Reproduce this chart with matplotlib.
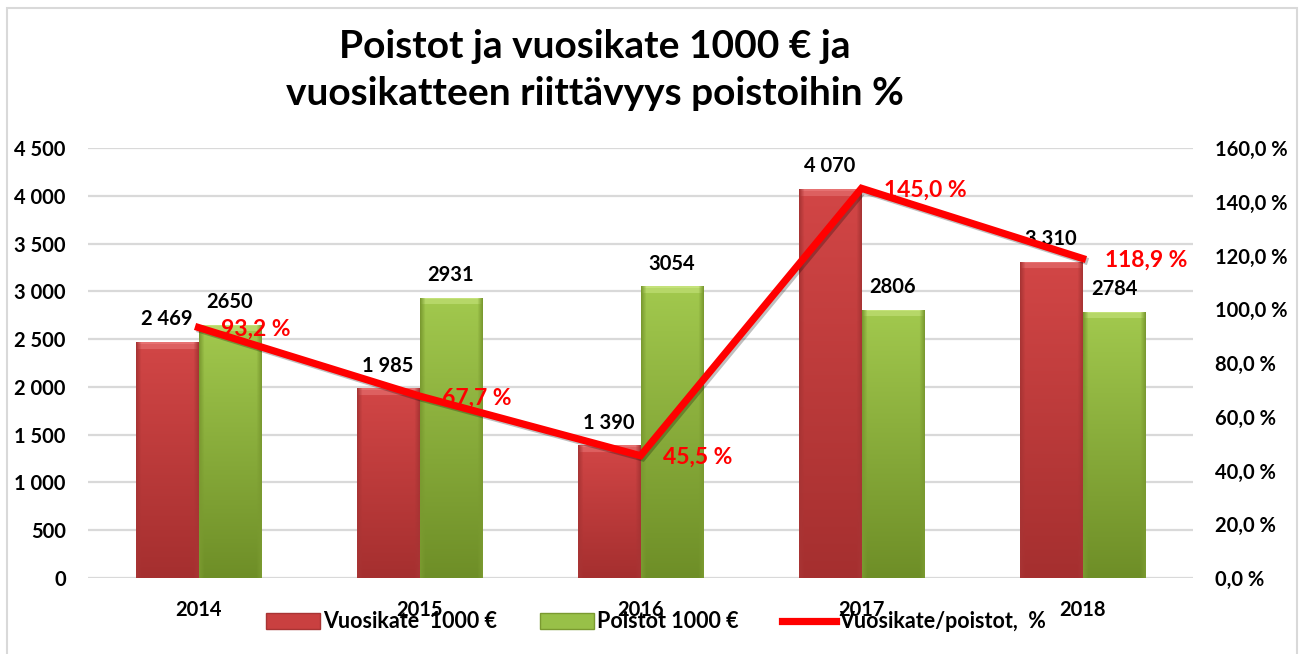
import numpy as np
import matplotlib
matplotlib.use("Agg")
import matplotlib.pyplot as plt
from matplotlib.patches import Patch, Rectangle
from matplotlib.lines import Line2D
import matplotlib.patheffects as pe

years = ["2014", "2015", "2016", "2017", "2018"]
vuosikate = [2469, 1985, 1390, 4070, 3310]
poistot = [2650, 2931, 3054, 2806, 2784]
riittavyys = [93.2, 67.7, 45.5, 145.0, 118.9]

left_ticks = [0, 500, 1000, 1500, 2000, 2500, 3000, 3500, 4000, 4500]
right_ticks = [0, 20, 40, 60, 80, 100, 120, 140, 160]

title = "Poistot ja vuosikate 1000 € ja\nvuosikatteen riittävyys poistoihin %"
legend_labels = ["Vuosikate  1000 €", "Poistot 1000 €", "Vuosikate/poistot,  %"]

plt.rcParams['font.family'] = ['Lato', 'DejaVu Sans']
plt.rcParams['font.weight'] = 'bold'

W, H = 1309, 654
fig = plt.figure(figsize=(W / 100, H / 100), dpi=100)
fig.patch.set_facecolor('white')

ax = fig.add_axes([88 / W, 1 - 578 / H, (1193 - 88) / W, (578 - 148) / H])
ax.set_facecolor('none')
x = np.arange(len(years))
bw = 0.285
fs = 14.5

ax.set_xlim(-0.5, len(years) - 0.5)
ax.set_ylim(0, 4500)
ax.set_yticks(left_ticks)
ax.set_yticklabels([f"{v:,}".replace(",", " ") for v in left_ticks])
ax.set_xticks(x)
ax.set_xticklabels(years)
for s in ax.spines.values():
    s.set_visible(False)
ax.tick_params(axis='both', length=0, labelsize=fs, colors='black')
ax.tick_params(axis='y', pad=16)
ax.tick_params(axis='x', pad=16)
for t in ax.get_xticklabels() + ax.get_yticklabels():
    t.set_fontweight('bold')
ax.yaxis.grid(True, color='#d9d9d9', lw=1.6, zorder=0)
ax.set_axisbelow(True)

bars_r = ax.bar(x - bw / 2, vuosikate, bw, color='#c94040', zorder=2, lw=0)
bars_g = ax.bar(x + bw / 2, poistot, bw, color='#93bb45', zorder=2, lw=0)


def shade(bars, top, bottom, bevel, edge):
    top = np.array(matplotlib.colors.to_rgb(top))
    bottom = np.array(matplotlib.colors.to_rgb(bottom))
    bevel = np.array(matplotlib.colors.to_rgb(bevel))
    edge = np.array(matplotlib.colors.to_rgb(edge))
    for r in bars:
        x0, w, h = r.get_x(), r.get_width(), r.get_height()
        p0 = ax.transData.transform((x0, 0))
        p1 = ax.transData.transform((x0 + w, h))
        hp = max(p1[1] - p0[1], 1)
        wp = max(p1[0] - p0[0], 1)
        ny, nx = int(hp), int(wp)
        t = np.linspace(0, 1, ny)[:, None, None]
        img = top * (1 - t) + bottom * t
        img = np.repeat(img, nx, axis=1)
        bev = 7
        img[:bev, :, :] = bevel * 0.6 + img[:bev, :, :] * 0.4
        img[:2, :, :] = bevel
        e = 5
        xs = np.arange(nx)
        fr = np.clip(np.minimum(xs, nx - 1 - xs) / e, 0, 1)[None, :, None]
        img = img * fr + edge * (1 - fr)
        im = ax.imshow(img, extent=[x0, x0 + w, 0, h], origin='upper',
                       aspect='auto', zorder=2.5, interpolation='bilinear')
        im.set_clip_path(r)


shade(bars_r, '#d24646', '#a52f2f', '#e67272', '#a83434')
shade(bars_g, '#a2c94e', '#6e8e27', '#c4e27a', '#7a9a30')
ax.set_xlim(-0.5, len(years) - 0.5)
ax.set_ylim(0, 4500)

for xi, v in zip(x - bw / 2, vuosikate):
    ax.annotate(f"{v:,}".replace(",", " "), (xi, v), xytext=(0, 12),
                textcoords='offset points', ha='center', va='baseline',
                fontsize=fs, fontweight='bold', color='black', zorder=5)
for xi, v in zip(x + bw / 2, poistot):
    ax.annotate(f"{v}", (xi, v), xytext=(0, 12),
                textcoords='offset points', ha='center', va='baseline',
                fontsize=fs, fontweight='bold', color='black', zorder=5)

ax2 = ax.twinx()
ax2.set_ylim(0, 160)
ax2.set_yticks(right_ticks)
ax2.set_yticklabels([f"{v:.1f} %".replace(".", ",") for v in right_ticks])
for s in ax2.spines.values():
    s.set_visible(False)
ax2.tick_params(axis='y', length=0, labelsize=fs, pad=16)
for t in ax2.get_yticklabels():
    t.set_fontweight('bold')

ax2.plot(x, riittavyys, color='#ff0000', lw=5.2, solid_joinstyle='miter',
         zorder=4,
         path_effects=[pe.SimpleLineShadow(offset=(1.5, -1.5), alpha=0.25),
                       pe.Normal()])
for xi, v in zip(x, riittavyys):
    ax2.annotate(f"{v:.1f} %".replace(".", ","), (xi, v), xytext=(16, -6),
                 textcoords='offset points', ha='left', va='baseline',
                 fontsize=16.5, fontweight='bold', color='#ff0000', zorder=6)

fig.text(595 / W, 1 - 70 / H, title, ha='center', va='center',
         fontsize=28, fontweight='bold', linespacing=1.42)

handles = [Patch(facecolor='#c94040', edgecolor='#a83434'),
           Patch(facecolor='#98c048', edgecolor='#7a9a30'),
           Line2D([0], [0], color='#ff0000', lw=5.2)]
leg = fig.legend(handles, legend_labels, loc='center', ncol=3,
                 bbox_to_anchor=(656 / W, 1 - 622 / H), frameon=False,
                 handlelength=2.5, handletextpad=0.15, columnspacing=2.0,
                 borderpad=0, prop={'weight': 'bold', 'size': 15.5})

fig.add_artist(Rectangle((7 / W, -0.05), (1297 - 7) / W, 1.05 - 8 / H,
                         transform=fig.transFigure, fill=False,
                         edgecolor='#d9d9d9', lw=1.5))

fig.savefig('out.png', dpi=100)
